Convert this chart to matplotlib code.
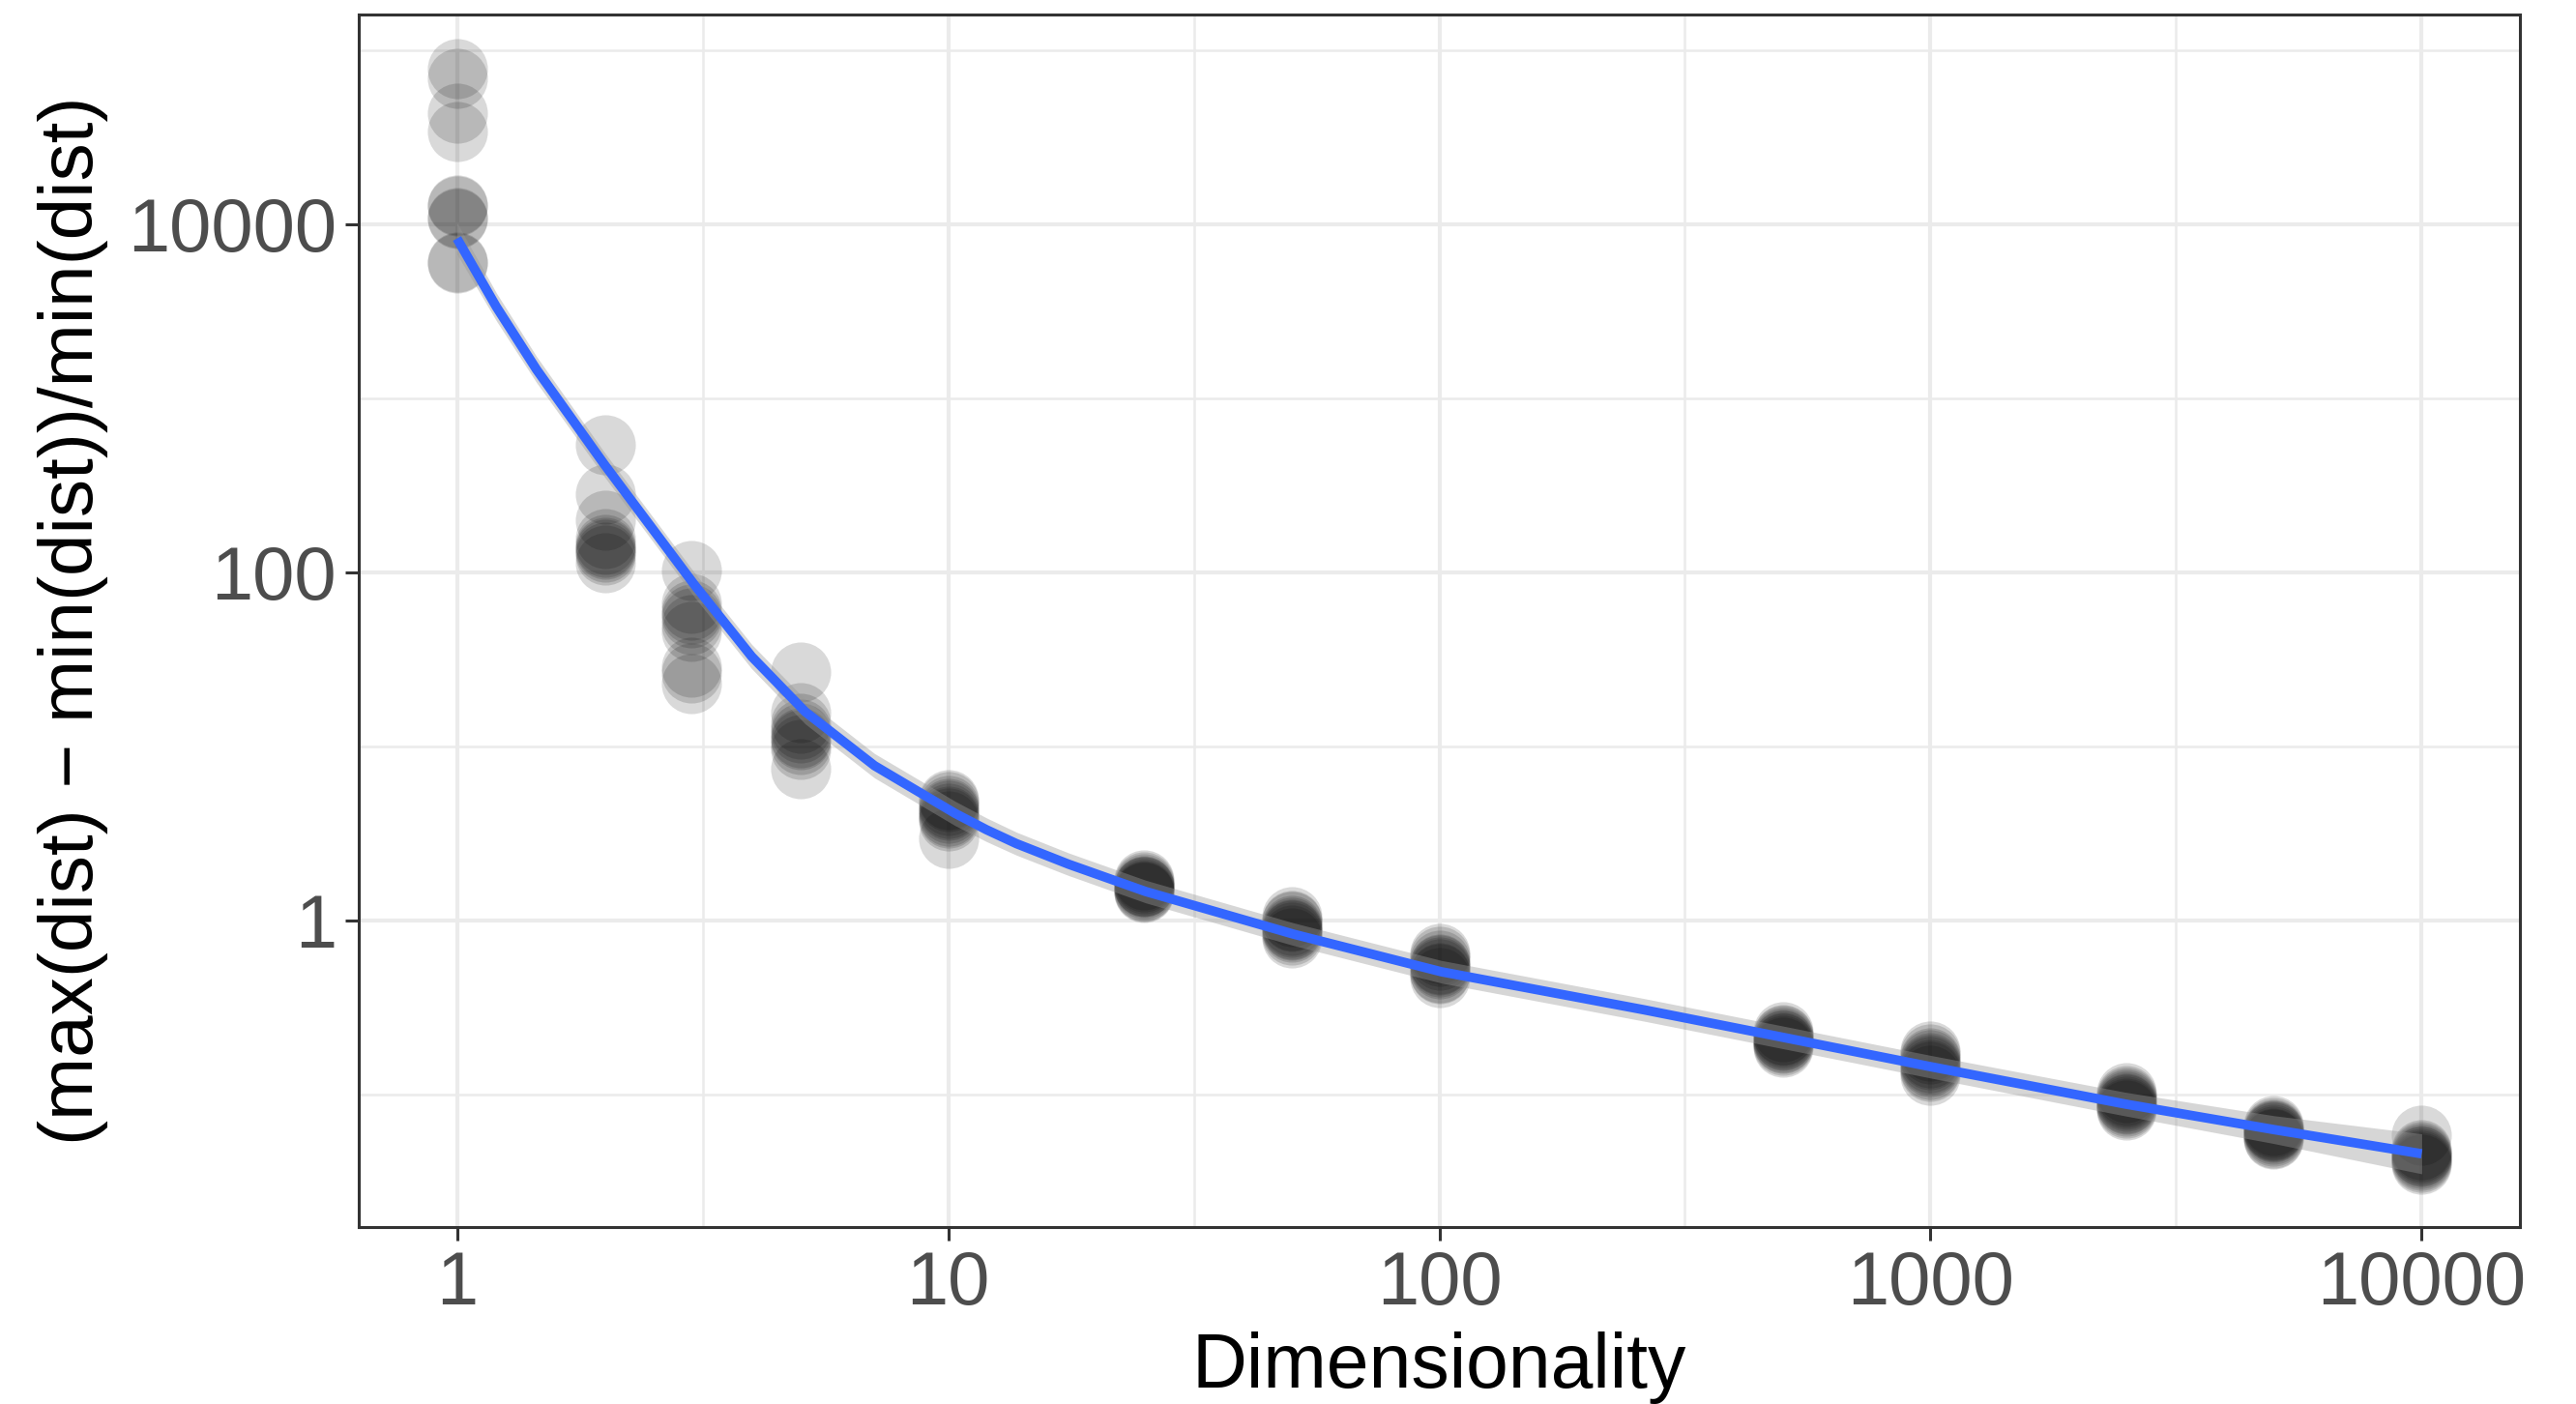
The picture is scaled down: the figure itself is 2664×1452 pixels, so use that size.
import numpy as np
import matplotlib
matplotlib.use("Agg")
import matplotlib.pyplot as plt
from matplotlib.ticker import FixedLocator, FixedFormatter, NullFormatter

plt.rcParams['font.family'] = ['Liberation Sans', 'DejaVu Sans']

# ---- data (log10 of the ratio) ----
dimensions = [1, 2, 3, 5, 10, 25, 50, 100, 500, 1000, 2500, 5000, 10000]
ratio_d1 = [4.891, 4.839, 4.636, 4.533, 4.111, 4.105, 4.033, 4.040, 3.783, 3.775]
ratio_d2 = [2.732, 2.450, 2.298, 2.191, 2.160, 2.140, 2.130, 2.115, 2.100, 2.052]
ratio_d3 = [2.008, 1.818, 1.781, 1.760, 1.735, 1.700, 1.660, 1.455, 1.418, 1.361]
ratio_d5 = [1.424, 1.195, 1.134, 1.100, 1.075, 1.050, 1.037, 1.010, 0.982, 0.868]
ratio_d10 = [0.693, 0.680, 0.660, 0.645, 0.630, 0.615, 0.600, 0.585, 0.570, 0.468]
ratio_d25 = [0.23, 0.22, 0.21, 0.20, 0.19, 0.19, 0.18, 0.17, 0.165, 0.16]
ratio_d50 = [0.02, 0.0, -0.01, -0.03, -0.04, -0.05, -0.06, -0.07, -0.085, -0.10]
ratio_d100 = [-0.19, -0.21, -0.23, -0.25, -0.26, -0.27, -0.28, -0.30, -0.31, -0.33]
ratio_d500 = [-0.64, -0.655, -0.665, -0.675, -0.685, -0.69, -0.70, -0.71, -0.72, -0.73]
ratio_d1000 = [-0.75, -0.77, -0.79, -0.80, -0.82, -0.83, -0.84, -0.86, -0.87, -0.89]
ratio_d2500 = [-0.99, -1.01, -1.02, -1.03, -1.04, -1.05, -1.06, -1.07, -1.08, -1.09]
ratio_d5000 = [-1.18, -1.19, -1.20, -1.21, -1.215, -1.22, -1.23, -1.24, -1.25, -1.26]
ratio_d10000 = [-1.235, -1.32, -1.33, -1.34, -1.35, -1.36, -1.37, -1.38, -1.39, -1.40]

# smoother (log10 dimension, log10 ratio, ribbon half-width in log10)
smooth_log_dim = [0.0, 0.08, 0.162, 0.301, 0.484, 0.600, 0.709, 0.850, 1.014, 1.078,
                  1.139, 1.245, 1.402, 1.703, 2.004, 2.417, 2.614, 3.001, 3.396, 3.699, 4.0]
smooth_log_ratio = [3.917, 3.525, 3.164, 2.615, 1.925, 1.515, 1.198, 0.888, 0.614, 0.520,
                    0.440, 0.322, 0.165, -0.080, -0.296, -0.515, -0.625, -0.842, -1.056,
                    -1.203, -1.342]
smooth_halfwidth = [0.09, 0.08, 0.075, 0.07, 0.07, 0.07, 0.07, 0.07, 0.07, 0.068,
                    0.066, 0.065, 0.065, 0.065, 0.065, 0.065, 0.065, 0.065, 0.068, 0.08,
                    0.115]

x_breaks = [1, 10, 100, 1000, 10000]
x_labels = ["1", "10", "100", "1000", "10000"]
y_breaks = [1, 100, 10000]
y_labels = ["1", "100", "10000"]

# ---- figure ----
W, H, DPI = 2664, 1452, 200
fig = plt.figure(figsize=(W / DPI, H / DPI), dpi=DPI)
ax = fig.add_axes([371 / W, 1 - 1269 / H, (2606 - 371) / W, (1269 - 15) / H])
ax.set_xscale('log')
ax.set_yscale('log')

all_series = [ratio_d1, ratio_d2, ratio_d3, ratio_d5, ratio_d10, ratio_d25, ratio_d50,
              ratio_d100, ratio_d500, ratio_d1000, ratio_d2500, ratio_d5000, ratio_d10000]
xs, ys = [], []
for d, vals in zip(dimensions, all_series):
    xs.extend([d] * len(vals))
    ys.extend(vals)
xs = np.array(xs, dtype=float)
ys = 10 ** np.array(ys)
ax.scatter(xs, ys, s=500, color='black', alpha=0.15, linewidths=0, zorder=3)

sx = 10 ** np.array(smooth_log_dim)
sy = np.array(smooth_log_ratio)
hw = np.array(smooth_halfwidth)
ax.fill_between(sx, 10 ** (sy - hw), 10 ** (sy + hw), color='#999999', alpha=0.4,
                linewidth=0, zorder=4)
ax.plot(sx, 10 ** sy, color='#3366FF', lw=3.5, zorder=5, solid_capstyle='butt',
        solid_joinstyle='round')

ax.set_xlim(10 ** -0.2, 10 ** 4.2)
ax.set_ylim(10 ** -1.763, 10 ** 5.204)

ax.xaxis.set_major_locator(FixedLocator(x_breaks))
ax.xaxis.set_major_formatter(FixedFormatter(x_labels))
ax.xaxis.set_minor_locator(FixedLocator([10 ** (k + 0.5) for k in range(-1, 5)]))
ax.xaxis.set_minor_formatter(NullFormatter())
ax.yaxis.set_major_locator(FixedLocator(y_breaks))
ax.yaxis.set_major_formatter(FixedFormatter(y_labels))
ax.yaxis.set_minor_locator(FixedLocator([0.1, 10, 1000, 100000]))
ax.yaxis.set_minor_formatter(NullFormatter())

ax.grid(which='major', color='#EBEBEB', lw=1.5, zorder=0)
ax.grid(which='minor', color='#EBEBEB', lw=0.9, zorder=0)
ax.set_axisbelow(True)

ax.tick_params(which='major', length=5, width=1.1, color='#333333', labelcolor='#4D4D4D',
               labelsize=28, pad=3.3)
ax.tick_params(which='minor', length=0)
for sp in ax.spines.values():
    sp.set_color('#333333')
    sp.set_linewidth(1.1)
    sp.set_zorder(6)

fig.text(0.5586, 0.0115, "Dimensionality", ha='center', va='baseline', fontsize=28.3,
         color='black')
fig.text(76 / W, 1 - 642 / H, "(max(dist) \u2212 min(dist))/min(dist)", rotation=90,
         ha='center', va='center', fontsize=28.2, color='black')

fig.savefig("out.png", dpi=DPI)
